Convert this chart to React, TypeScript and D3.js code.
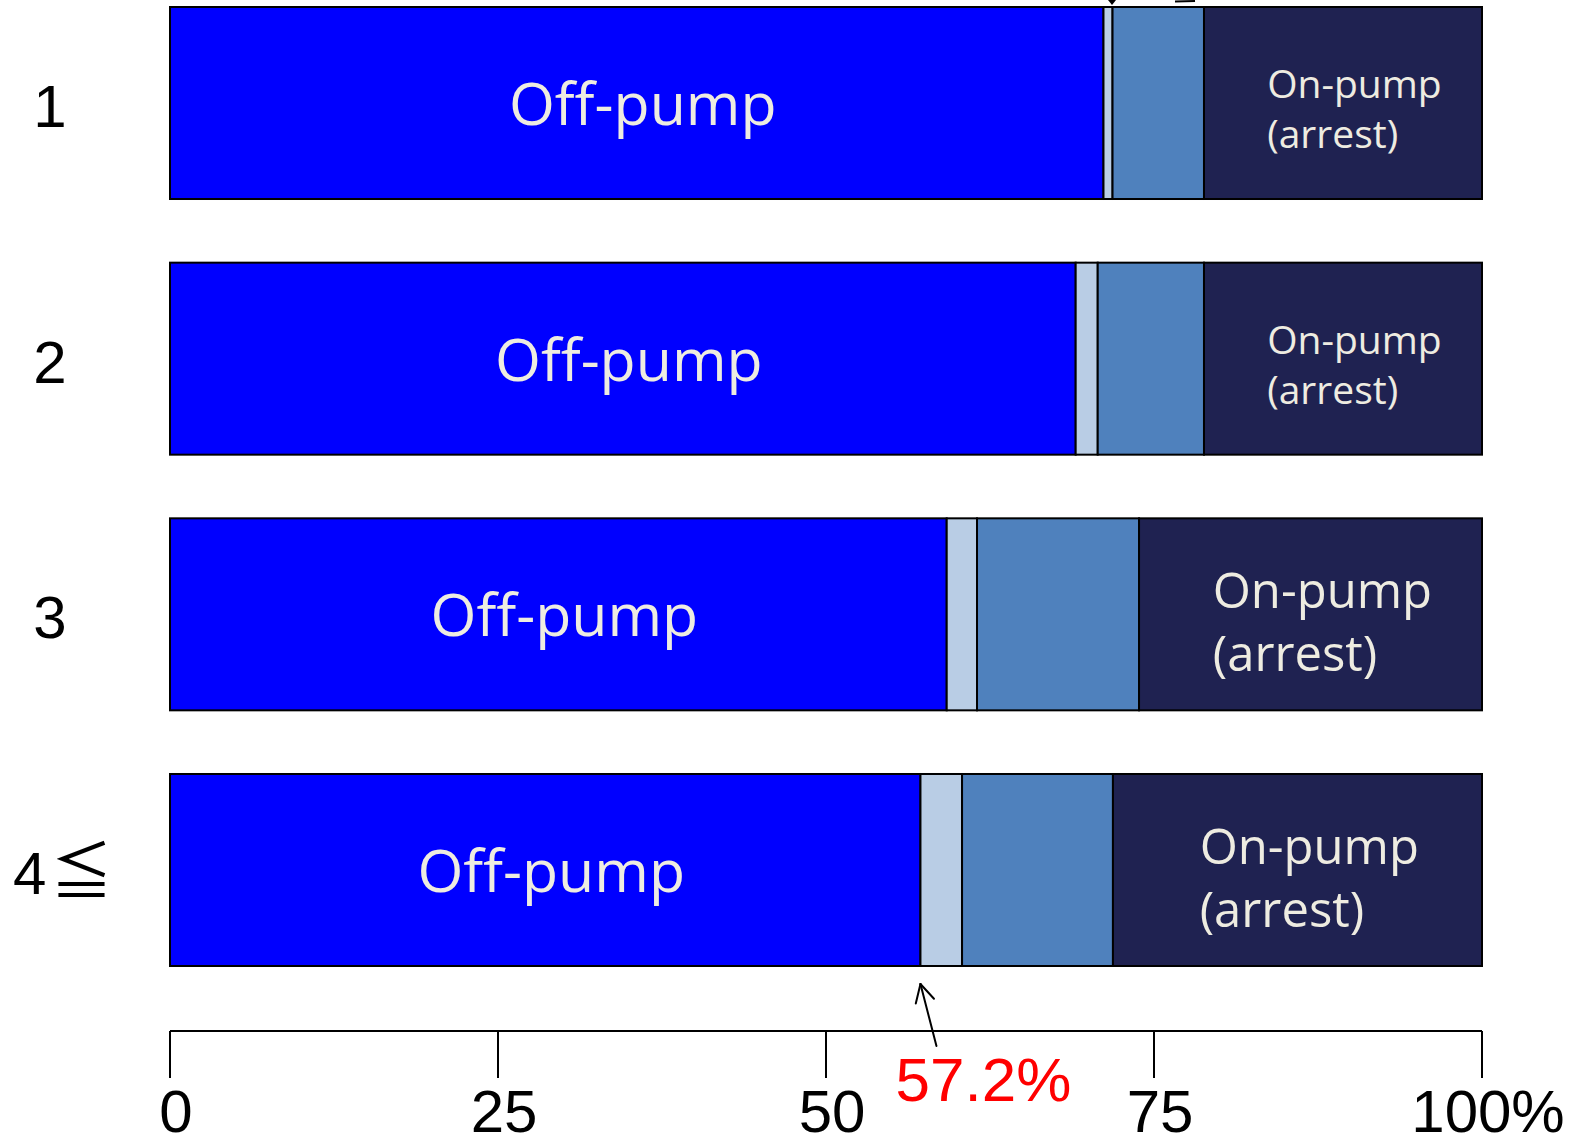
import React from "react";
import * as d3 from "d3";

const categories = ["1", "2", "3", "4≦"];
const offPump = [71.15, 69.03, 59.2, 57.2];
const seriesB = [0.69, 1.68, 2.31, 3.17];
const seriesC = [6.97, 8.1, 12.35, 11.5];
const onPumpArrest = [21.19, 21.19, 26.14, 28.13];
const tickValues = [0, 25, 50, 75, 100];
const annotationValue = 57.2;
const annotationLabel = "57.2%";

const seriesKeys = ["offPump", "seriesB", "seriesC", "onPumpArrest"];
const colors: Record<string, string> = {
  offPump: "#0000FF",
  seriesB: "#B9CDE5",
  seriesC: "#4F81BD",
  onPumpArrest: "#1F2251",
};

const W = 1573;
const H = 1140;

export default function App() {
  const rows = categories.map((c, i) => ({
    category: c,
    offPump: offPump[i],
    seriesB: seriesB[i],
    seriesC: seriesC[i],
    onPumpArrest: onPumpArrest[i],
  }));
  const stacked = d3.stack<any>().keys(seriesKeys)(rows);

  const x = d3.scaleLinear().domain([0, 100]).range([170, 1482]);
  const y = d3
    .scaleBand<string>()
    .domain(categories)
    .range([7, 966])
    .paddingInner(0.249)
    .paddingOuter(0);
  const bw = y.bandwidth();

  const axisY = 1031;
  const tickLen = 47;
  const textColor = "#EEECE1";
  const sans = "'Open Sans', 'Noto Sans', sans-serif";
  const arial = "'Liberation Sans', Arial, sans-serif";
  const cjk = "'Noto Sans CJK JP', 'Noto Sans CJK SC', sans-serif";

  const onPumpSize = [39, 39, 49, 49];

  // annotation arrow
  const lastCat = categories[categories.length - 1];
  const barBottom = (y(lastCat) as number) + bw;
  const tipX = x(annotationValue);
  const tipY = barBottom + 18;
  const tailX = tipX + 16;
  const tailY = barBottom + 80;
  const ang = Math.atan2(tailY - tipY, tailX - tipX);
  const armLen = 20;
  const spread = (28 * Math.PI) / 180;
  const arm1 = [tipX + armLen * Math.cos(ang - spread), tipY + armLen * Math.sin(ang - spread)];
  const arm2 = [tipX + armLen * Math.cos(ang + spread), tipY + armLen * Math.sin(ang + spread)];

  // top cut-off annotation (bar 1, light segment)
  const topTipX = x(offPump[0] + seriesB[0] / 2) + 4;

  return (
    <svg
      width={W}
      height={H}
      viewBox={`0 0 ${W} ${H}`}
      style={{ position: "absolute", left: 0, top: 0, display: "block", background: "#fff" }}
    >
      {/* bars */}
      {stacked.map((s) => (
        <g key={s.key}>
          {s.map((d, i) => (
            <rect
              key={i}
              x={x(d[0])}
              y={y(categories[i])}
              width={x(d[1]) - x(d[0])}
              height={bw}
              fill={colors[s.key]}
              stroke="#000"
              strokeWidth={2}
            />
          ))}
        </g>
      ))}

      {/* Off-pump labels */}
      {stacked[0].map((d, i) => {
        const cy = (y(categories[i]) as number) + bw / 2;
        return (
          <text
            key={"off" + i}
            x={(x(d[0]) + x(d[1])) / 2 + 6}
            y={cy + 22}
            textAnchor="middle"
            fontFamily={sans}
            fontSize={59}
            fill={textColor}
          >
            Off-pump
          </text>
        );
      })}

      {/* On-pump (arrest) labels */}
      {stacked[3].map((d, i) => {
        const cy = (y(categories[i]) as number) + bw / 2;
        const fs = onPumpSize[i];
        const estW = fs * 4.4;
        const cx = (x(d[0]) + x(d[1])) / 2 + 10;
        const left = cx - estW / 2;
        const b1 = cy - 0.12 * fs;
        return (
          <text key={"on" + i} fontFamily={sans} fontSize={fs} fill={textColor}>
            <tspan x={left} y={b1}>
              On-pump
            </tspan>
            <tspan x={left} y={b1 + 1.28 * fs}>
              (arrest)
            </tspan>
          </text>
        );
      })}

      {/* category labels */}
      {categories.map((c) => {
        const multi = c.length > 1;
        return (
          <text
            key={"cat" + c}
            x={multi ? 13 : 50}
            y={(y(c) as number) + bw / 2 + 24}
            textAnchor={multi ? "start" : "middle"}
            fontFamily={arial}
            fontSize={60}
            fill="#000"
          >
            <tspan>{c[0]}</tspan>
            {multi ? (
              <tspan fontFamily={cjk} fontSize={62} dx={4}>
                {c.slice(1)}
              </tspan>
            ) : null}
          </text>
        );
      })}

      {/* axis */}
      <line x1={x(0)} x2={x(100)} y1={axisY} y2={axisY} stroke="#000" strokeWidth={2} />
      {tickValues.map((t) => (
        <g key={"t" + t}>
          <line x1={x(t)} x2={x(t)} y1={axisY} y2={axisY + tickLen} stroke="#000" strokeWidth={2} />
          <text
            x={x(t) + 6}
            y={1132}
            textAnchor="middle"
            fontFamily={arial}
            fontSize={60}
            fill="#000"
          >
            {t === 100 ? "100%" : String(t)}
          </text>
        </g>
      ))}

      {/* annotation */}
      <g stroke="#000" strokeWidth={2} fill="none" strokeLinecap="round">
        <line x1={tailX} y1={tailY} x2={tipX} y2={tipY} />
        <line x1={tipX} y1={tipY} x2={arm1[0]} y2={arm1[1]} />
        <line x1={tipX} y1={tipY} x2={arm2[0]} y2={arm2[1]} />
      </g>
      <text
        x={tipX + 63}
        y={1101}
        textAnchor="middle"
        fontFamily={arial}
        fontSize={62}
        fill="#FF0000"
      >
        {annotationLabel}
      </text>

      {/* cut-off annotation at top */}
      <path d={`M${topTipX - 4},0 L${topTipX + 4},0 L${topTipX},5 Z`} fill="#000" />
      <line x1={topTipX + 63} x2={topTipX + 83} y1={1.5} y2={1} stroke="#000" strokeWidth={2} />
    </svg>
  );
}
